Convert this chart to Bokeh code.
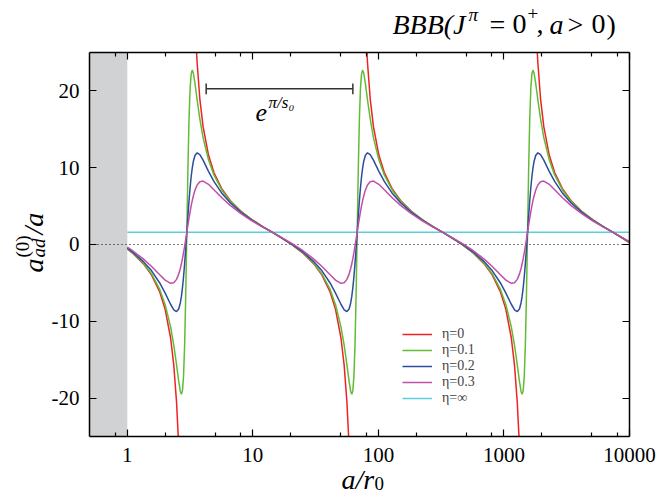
import math
import numpy as np
from bokeh.plotting import figure
from bokeh.models import (Range1d, FixedTicker, CustomJSTickFormatter, LogAxis, LinearAxis,
                          BoxAnnotation, Label, Legend, LegendItem, ColumnDataSource)
from bokeh.embed import file_html
from bokeh.resources import INLINE

nan = float("nan")

# ---------------- data ----------------
# common abscissa a/r0 for eta = 0.1, 0.2, 0.3
a_r0 = [
    1.0, 1.1031, 1.3457, 1.5619, 1.8131, 2.0026, 2.2118, 2.3477, 2.4673, 2.5672, 2.6449, 2.6981,
    2.7523, 2.8075, 2.8638, 2.9214, 2.98, 3.0398, 3.1008, 3.1631, 3.2266, 3.2914, 3.3576, 3.4592,
    3.5993, 3.7826, 4.015, 4.4345, 4.898, 5.6855, 6.599, 8.0505, 9.821, 11.98,
    14.231, 16.865, 20.573, 25.098, 30.617, 35.537, 41.25, 45.562, 50.323, 53.414, 56.135, 58.408,
    60.175, 61.386, 62.619, 63.875, 65.157, 66.466, 67.8, 69.161, 70.549, 71.966, 73.41, 74.884,
    76.391, 78.702, 81.89, 86.061, 91.347, 100.89, 111.44, 129.36, 150.14, 183.16, 223.45, 272.56,
    323.67, 383.57, 467.89, 570.8, 696.34, 808.22, 938.17, 1036.2, 1144.5, 1214.8, 1276.7, 1328.4,
    1368.6, 1396.1, 1424.2, 1452.7, 1481.9, 1511.7, 1542.0, 1573.0, 1604.5, 1636.7, 1669.6, 1703.1,
    1737.4, 1789.9, 1862.4, 1957.3, 2077.5, 2294.6, 2534.5, 2942.0, 3414.7, 4165.7, 5081.9, 6199.0,
    7347.0, 8707.0, 10000.0,
]

y_eta01 = [
    -0.54, -1.09, -2.45, -3.84, -5.85, -7.83, -10.72, -13.15, -15.65, -17.80, -19.13, -19.51,
    -19.02, -17.07, -13.00, -6.55, 1.60, 9.74, 16.20, 20.27, 22.22, 22.71, 22.33, 21.00,
    18.85, 16.35, 13.92, 11.03, 9.05, 7.04, 5.65, 4.29, 3.23, 2.33,
    1.60, 0.88, -0.03, -1.09, -2.45, -3.84, -5.85, -7.83, -10.72, -13.15, -15.65, -17.80,
    -19.13, -19.51, -19.02, -17.07, -13.00, -6.55, 1.60, 9.74, 16.20, 20.27, 22.22, 22.71,
    22.33, 21.00, 18.85, 16.35, 13.92, 11.03, 9.05, 7.04, 5.65, 4.29, 3.23, 2.33,
    1.60, 0.88, -0.03, -1.09, -2.45, -3.84, -5.85, -7.83, -10.72, -13.15, -15.65, -17.80,
    -19.13, -19.51, -19.02, -17.07, -13.00, -6.55, 1.60, 9.74, 16.20, 20.27, 22.22, 22.71,
    22.33, 21.00, 18.85, 16.35, 13.92, 11.03, 9.05, 7.04, 5.65, 4.29, 3.23, 2.33,
    1.60, 0.88, 0.25,
]

y_eta02 = [
    -0.47, -0.98, -2.23, -3.43, -5.01, -6.33, -7.78, -8.51, -8.74, -8.39, -7.61, -6.76,
    -5.62, -4.16, -2.43, -0.48, 1.60, 3.68, 5.63, 7.36, 8.82, 9.96, 10.81, 11.59,
    11.94, 11.71, 10.98, 9.53, 8.21, 6.63, 5.43, 4.18, 3.18, 2.30,
    1.60, 0.90, 0.02, -0.98, -2.23, -3.43, -5.01, -6.33, -7.78, -8.51, -8.74, -8.39,
    -7.61, -6.76, -5.62, -4.16, -2.43, -0.48, 1.60, 3.68, 5.63, 7.36, 8.82, 9.96,
    10.81, 11.59, 11.94, 11.71, 10.98, 9.53, 8.21, 6.63, 5.43, 4.18, 3.18, 2.30,
    1.60, 0.90, 0.02, -0.98, -2.23, -3.43, -5.01, -6.33, -7.78, -8.51, -8.74, -8.39,
    -7.61, -6.76, -5.62, -4.16, -2.43, -0.48, 1.60, 3.68, 5.63, 7.36, 8.82, 9.96,
    10.81, 11.59, 11.94, 11.71, 10.98, 9.53, 8.21, 6.63, 5.43, 4.18, 3.18, 2.30,
    1.60, 0.90, 0.30,
]

y_eta03 = [
    -0.34, -0.81, -1.90, -2.86, -3.94, -4.64, -5.06, -4.98, -4.54, -3.86, -3.12, -2.51,
    -1.82, -1.04, -0.20, 0.69, 1.60, 2.51, 3.40, 4.24, 5.02, 5.71, 6.32, 7.06,
    7.74, 8.18, 8.26, 7.84, 7.14, 6.06, 5.10, 4.01, 3.09, 2.27,
    1.60, 0.93, 0.11, -0.81, -1.90, -2.86, -3.94, -4.64, -5.06, -4.98, -4.54, -3.86,
    -3.12, -2.51, -1.82, -1.04, -0.20, 0.69, 1.60, 2.51, 3.40, 4.24, 5.02, 5.71,
    6.32, 7.06, 7.74, 8.18, 8.26, 7.84, 7.14, 6.06, 5.10, 4.01, 3.09, 2.27,
    1.60, 0.93, 0.11, -0.81, -1.90, -2.86, -3.94, -4.64, -5.06, -4.98, -4.54, -3.86,
    -3.12, -2.51, -1.82, -1.04, -0.20, 0.69, 1.60, 2.51, 3.40, 4.24, 5.02, 5.71,
    6.32, 7.06, 7.74, 8.18, 8.26, 7.84, 7.14, 6.06, 5.10, 4.01, 3.09, 2.27,
    1.60, 0.93, 0.36,
]

# eta = 0 (diverging branches, cut where they leave the +-25 window)
a_r0_eta0 = [
    1.0, 1.1031, 1.3457, 1.5619, 1.8131, 2.0026, 2.2118, 2.3477, 2.4673, 2.546, 2.98, 3.562,
    3.5993, 3.7826, 4.015, 4.4345, 4.898, 5.6855, 6.599, 8.0505, 9.821, 11.98,
    14.231, 16.865, 20.573, 25.098, 30.617, 35.537, 41.25, 45.562, 50.323, 53.414, 56.135, 57.93,
    67.8, 81.05, 81.89, 86.061, 91.347, 100.89, 111.44, 129.36, 150.14, 183.16, 223.45, 272.56,
    323.67, 383.57, 467.89, 570.8, 696.34, 808.22, 938.17, 1036.2, 1144.5, 1214.8, 1276.7, 1317.5,
    1542.0, 1843.3, 1862.4, 1957.3, 2077.5, 2294.6, 2534.5, 2942.0, 3414.7, 4165.7, 5081.9, 6199.0,
    7347.0, 8707.0, 10000.0,
]
y_eta0 = [
    -0.57, -1.13, -2.53, -3.99, -6.18, -8.45, -12.14, -15.77, -20.50, -25.0, nan, 25.0,
    23.70, 18.97, 15.34, 11.65, 9.38, 7.19, 5.73, 4.33, 3.25, 2.33,
    1.60, 0.87, -0.05, -1.13, -2.53, -3.99, -6.18, -8.45, -12.14, -15.77, -20.50, -25.0,
    nan, 25.0, 23.70, 18.97, 15.34, 11.65, 9.38, 7.19, 5.73, 4.33, 3.25, 2.33,
    1.60, 0.87, -0.05, -1.13, -2.53, -3.99, -6.18, -8.45, -12.14, -15.77, -20.50, -25.0,
    nan, 25.0, 23.70, 18.97, 15.34, 11.65, 9.38, 7.19, 5.73, 4.33, 3.25, 2.33,
    1.60, 0.87, 0.24,
]

eta_inf_x = [1.0, 10000.0]
eta_inf_y = [1.6, 1.6]

series_labels = ["η=0", "η=0.1", "η=0.2", "η=0.3", "η=∞"]
series_colors = ["#ee2222", "#62bb34", "#2c4c9e", "#c04fa8", "#5ccfdd"]

bracket_x = [4.25, 62.6]
bracket_y = 20.27

x_ticks = [1, 10, 100, 1000, 10000]
x_minor = [0.8, 2, 5, 8, 20, 50, 80, 200, 500, 800, 2000, 5000, 8000]
y_ticks = [-20, -10, 0, 10, 20]
x_lim = (0.5, 10000.0)
y_lim = (-25.0, 25.0)
shaded_region = [0.5, 1.0]
zero_line_x = [0.5, 10000.0]
zero_line_y = [0.0, 0.0]

SERIF = "Liberation Serif"

# visible window (whole canvas); the plot box is drawn by fixed-location axes
x_view = (0.097747, 18322.0)
y_view = (-32.9427, 31.7708)

p = figure(width=662, height=497, x_axis_type="log",
           x_range=Range1d(*x_view), y_range=Range1d(*y_view),
           x_axis_location=None, y_axis_location=None,
           output_backend="svg", toolbar_location=None, min_border=0)
p.grid.visible = False
p.outline_line_color = None
p.background_fill_color = "white"
p.border_fill_color = "white"

fmt = CustomJSTickFormatter(code="return tick.toString();")
blank_fmt = CustomJSTickFormatter(code="return '';")


def style_axis(ax):
    ax.axis_line_color = "black"
    ax.axis_line_width = 1.5
    ax.major_tick_in = 7
    ax.major_tick_out = 0
    ax.minor_tick_in = 4
    ax.minor_tick_out = 0
    ax.major_tick_line_color = "black"
    ax.minor_tick_line_color = "black"
    ax.major_tick_line_width = 1.2
    ax.minor_tick_line_width = 1.2
    ax.major_label_text_font = SERIF
    ax.major_label_text_color = "black"
    ax.major_label_text_font_size = "21px"


bottom = LogAxis(ticker=FixedTicker(ticks=x_ticks, minor_ticks=x_minor), formatter=fmt,
                 fixed_location=y_lim[0], bounds=x_lim)
style_axis(bottom)
bottom.major_label_standoff = 11
p.add_layout(bottom, "below")

top = LogAxis(ticker=FixedTicker(ticks=x_ticks, minor_ticks=x_minor), formatter=blank_fmt,
              fixed_location=y_lim[1], bounds=x_lim)
style_axis(top)
p.add_layout(top, "above")

left = LinearAxis(ticker=FixedTicker(ticks=y_ticks, minor_ticks=[]), formatter=fmt,
                  fixed_location=x_lim[0], bounds=y_lim)
style_axis(left)
left.major_label_standoff = 10
p.add_layout(left, "left")

right = LinearAxis(ticker=FixedTicker(ticks=y_ticks, minor_ticks=[]), formatter=blank_fmt,
                   fixed_location=x_lim[1], bounds=y_lim)
style_axis(right)
p.add_layout(right, "right")

# shaded region a/r0 < 1
p.add_layout(BoxAnnotation(left=shaded_region[0], right=shaded_region[1],
                           bottom=y_lim[0], top=y_lim[1], fill_color="#d1d2d4",
                           fill_alpha=1.0, line_color=None, level="underlay"))

# zero line
p.line(zero_line_x, zero_line_y, line_color="black", line_width=1.2, line_dash="1 3")

src = ColumnDataSource(dict(a=np.array(a_r0, dtype=float),
                            y1=np.array(y_eta01, dtype=float),
                            y2=np.array(y_eta02, dtype=float),
                            y3=np.array(y_eta03, dtype=float)))
src0 = ColumnDataSource(dict(a=np.array(a_r0_eta0, dtype=float),
                             y0=np.array(y_eta0, dtype=float)))

r_inf = p.line(eta_inf_x, eta_inf_y, line_color=series_colors[4], line_width=1.5)
r0 = p.line("a", "y0", source=src0, line_color=series_colors[0], line_width=1.5)
r1 = p.line("a", "y1", source=src, line_color=series_colors[1], line_width=1.5)
r2 = p.line("a", "y2", source=src, line_color=series_colors[2], line_width=1.5)
r3 = p.line("a", "y3", source=src, line_color=series_colors[3], line_width=1.5)

legend = Legend(items=[LegendItem(label=series_labels[i], renderers=[r])
                       for i, r in enumerate([r0, r1, r2, r3, r_inf])],
                location=(402, 91))
legend.label_text_font = SERIF
legend.label_text_font_size = "14px"
legend.glyph_width = 30
legend.glyph_height = 16
legend.label_height = 16
legend.spacing = 0
legend.padding = 0
legend.margin = 0
legend.label_standoff = 10
legend.border_line_color = None
legend.background_fill_alpha = 0
p.add_layout(legend)

# period bracket
p.segment(x0=[bracket_x[0]], y0=[bracket_y], x1=[bracket_x[1]], y1=[bracket_y],
          line_color="#333333", line_width=1.5)
p.segment(x0=bracket_x, y0=[bracket_y - 0.7] * 2, x1=bracket_x, y1=[bracket_y + 0.7] * 2,
          line_color="#333333", line_width=1.5)


def lab(x, y, text, size, style="normal", angle=0.0):
    p.add_layout(Label(x=x, y=y, text=text, text_font=SERIF, text_font_size=size,
                       text_font_style=style, text_color="black", angle=angle,
                       text_align="left", text_baseline="alphabetic"))


# e^{pi/s0}
lab(10.51, 17.19, "e", "26px", "italic")
lab(13.34, 18.49, "π/s₀", "17px", "italic")

# title  BBB(J^pi = 0^+, a > 0)
lab(129.5, 28.65, "BBB(J", "28px", "italic")
lab(522.0, 29.95, "π", "19px", "italic")
lab(767.1, 28.65, "=", "28px")
lab(1170.0, 28.65, "0", "28px")
lab(1540.0, 30.08, "+", "19px")
lab(1816.5, 28.65, ",", "28px")
lab(2306.6, 28.65, "a", "28px", "italic")
lab(3208.0, 28.65, ">", "28px")
lab(4981.5, 28.65, "0", "28px")
lab(6558.0, 28.65, ")", "28px")

# x-axis label a/r0
lab(50.83, -30.60, "a/r", "28px", "italic")
lab(93.1, -31.12, "0", "19px")

# y-axis label a_ad^(0)/a (rotated)
rot = math.pi / 2
lab(0.17905, -3.646, "a", "28px", "italic", rot)
lab(0.14637, -1.693, "(0)", "19px", "normal", rot)
lab(0.19627, -1.693, "ad", "19px", "italic", rot)
lab(0.17905, 1.302, "/a", "28px", "italic", rot)

open("out.html", "w").write(file_html(p, INLINE))
